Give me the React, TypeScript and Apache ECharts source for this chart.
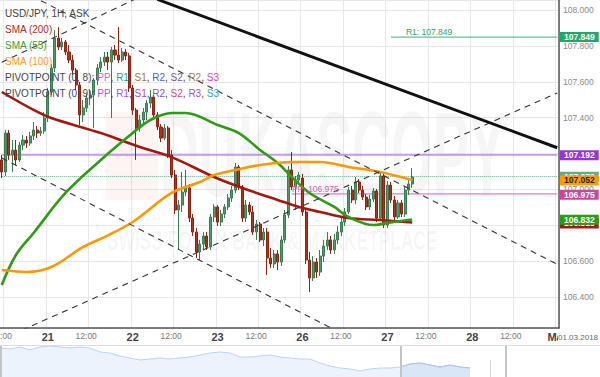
import React, { useEffect, useRef } from "react";
import * as echarts from "echarts";

const FONT = "'Liberation Sans', Arial, Helvetica, sans-serif";

// ---------- hourly time slots (weekend skipped) ----------
const firstDay = "02-20";
const firstHour = 11;
const tradingDays = ["02-21", "02-22", "02-23", "02-26", "02-27", "02-28"];
const firstSlot = "02-20 11:00";
const lastSlot = "03-01 00:00";
const dayLabels: Record<string, string> = {
  "02-21": "21", "02-22": "22", "02-23": "23", "02-26": "26",
  "02-27": "27", "02-28": "28", "03-01": "Mar",
};

// ---------- candles: [open, close, low, high] ----------
const candles20 = [
  [107.164, 107.097, 107.063, 107.192], [107.097, 107.314, 107.075, 107.331],
  [107.314, 107.192, 107.164, 107.331], [107.192, 107.219, 107.097, 107.275],
  [107.219, 107.164, 107.136, 107.275], [107.164, 107.247, 107.153, 107.264],
  [107.247, 107.275, 107.219, 107.303], [107.275, 107.258, 107.231, 107.298],
  [107.258, 107.298, 107.242, 107.320], [107.298, 107.331, 107.275, 107.376],
  [107.331, 107.314, 107.286, 107.353], [107.314, 107.325, 107.298, 107.348],
  [107.325, 107.398, 107.309, 107.431],
];
const candles21 = [
  [107.398, 107.543, 107.376, 107.565], [107.543, 107.677, 107.526, 107.699],
  [107.677, 107.844, 107.654, 107.888], [107.844, 107.794, 107.777, 107.905],
  [107.794, 107.822, 107.777, 107.844], [107.822, 107.766, 107.749, 107.833],
  [107.766, 107.721, 107.704, 107.805], [107.721, 107.665, 107.638, 107.749],
  [107.665, 107.582, 107.554, 107.677], [107.582, 107.415, 107.359, 107.599],
  [107.415, 107.454, 107.376, 107.498], [107.454, 107.509, 107.431, 107.532],
  [107.509, 107.526, 107.470, 107.554], [107.526, 107.610, 107.342, 107.621],
  [107.610, 107.677, 107.582, 107.699], [107.677, 107.710, 107.654, 107.738],
  [107.710, 107.738, 107.688, 107.766], [107.738, 107.710, 107.665, 107.766],
  [107.710, 107.777, 107.398, 107.794], [107.777, 107.749, 107.721, 107.805],
  [107.749, 107.721, 107.704, 107.905], [107.721, 107.766, 107.710, 107.788],
  [107.766, 107.744, 107.721, 107.783], [107.744, 107.565, 107.543, 107.760],
];
const candles22 = [
  [107.565, 107.442, 107.415, 107.582], [107.442, 107.342, 107.164, 107.454],
  [107.342, 107.387, 107.320, 107.415], [107.387, 107.431, 107.359, 107.454],
  [107.431, 107.481, 107.387, 107.498], [107.481, 107.515, 107.454, 107.554],
  [107.515, 107.415, 107.387, 107.526], [107.415, 107.348, 107.331, 107.431],
  [107.348, 107.286, 107.264, 107.364], [107.286, 107.342, 107.275, 107.364],
  [107.342, 107.192, 107.175, 107.353], [107.192, 107.080, 107.063, 107.219],
  [107.080, 106.885, 106.863, 107.108], [106.885, 106.913, 106.662, 106.941],
  [106.913, 106.985, 106.874, 107.097], [106.985, 107.008, 106.963, 107.108],
  [107.008, 106.840, 106.818, 107.030], [106.840, 106.762, 106.740, 106.863],
  [106.762, 106.651, 106.617, 106.785], [106.651, 106.695, 106.606, 106.718],
  [106.695, 106.740, 106.662, 106.762], [106.740, 106.679, 106.662, 106.762],
  [106.679, 106.846, 106.662, 106.863], [106.846, 106.902, 106.818, 106.918],
];
const candles23 = [
  [106.902, 106.818, 106.796, 106.913], [106.818, 106.863, 106.796, 106.885],
  [106.863, 106.902, 106.840, 106.918], [106.902, 106.952, 106.885, 106.974],
  [106.952, 106.996, 106.930, 107.019], [106.996, 107.125, 106.980, 107.147],
  [107.125, 107.013, 106.996, 107.136], [107.013, 106.840, 106.818, 107.024],
  [106.840, 106.913, 106.818, 106.941], [106.913, 106.874, 106.857, 106.930],
  [106.874, 106.762, 106.746, 106.907], [106.762, 106.807, 106.718, 106.829],
  [106.807, 106.718, 106.707, 106.818], [106.718, 106.762, 106.684, 106.785],
  [106.762, 106.617, 106.523, 106.785], [106.617, 106.584, 106.562, 106.673],
  [106.584, 106.640, 106.562, 106.662], [106.640, 106.595, 106.550, 106.662],
  [106.595, 106.718, 106.573, 106.740], [106.718, 106.857, 106.701, 106.885],
  [106.857, 107.108, 106.840, 107.130], [107.108, 107.013, 106.996, 107.208],
  [107.013, 107.052, 106.885, 107.075], [107.052, 107.080, 107.030, 107.097],
];
const candles26 = [
  [107.063, 106.874, 106.852, 107.086], [106.874, 106.606, 106.584, 106.896],
  [106.606, 106.506, 106.428, 106.651], [106.506, 106.595, 106.489, 106.628],
  [106.595, 106.539, 106.506, 106.617], [106.539, 106.628, 106.517, 106.662],
  [106.628, 106.684, 106.595, 106.718], [106.684, 106.718, 106.662, 106.762],
  [106.718, 106.662, 106.640, 106.740], [106.662, 106.718, 106.640, 106.751],
  [106.718, 106.762, 106.695, 106.796], [106.762, 106.818, 106.740, 106.840],
  [106.818, 106.874, 106.796, 106.896], [106.874, 106.996, 106.863, 107.013],
  [106.996, 106.941, 106.924, 107.019], [106.941, 107.041, 106.918, 107.069],
  [107.041, 106.996, 106.980, 107.058], [106.996, 106.957, 106.941, 107.019],
  [106.957, 106.902, 106.885, 106.974], [106.902, 106.946, 106.885, 106.969],
  [106.946, 106.991, 106.930, 107.008], [106.991, 106.840, 106.818, 107.002],
  [106.840, 107.075, 106.824, 107.102], [107.075, 106.801, 106.785, 107.097],
];
const candles27 = [
  [106.801, 107.024, 106.785, 107.047], [107.024, 106.941, 106.924, 107.041],
  [106.941, 106.846, 106.829, 106.963], [106.846, 106.924, 106.835, 106.941],
  [106.924, 106.863, 106.846, 106.941], [106.863, 106.996, 106.846, 107.019],
  [106.996, 107.030, 106.969, 107.052], [107.030, 107.069, 107.008, 107.119],
];

// ---------- moving averages: [slot, value] ----------
const sma200 = [
  ["02-20 11:00", 107.543], ["02-20 20:00", 107.443], ["02-21 01:00", 107.398],
  ["02-21 15:00", 107.314], ["02-22 02:00", 107.236], ["02-22 11:00", 107.180],
  ["02-22 23:00", 107.069], ["02-23 07:00", 107.008], ["02-23 17:00", 106.941],
  ["02-23 23:00", 106.902], ["02-26 05:00", 106.874], ["02-26 13:00", 106.840],
  ["02-26 22:00", 106.829], ["02-27 07:00", 106.815],
];
const sma55 = [
  ["02-20 11:00", 106.467], ["02-20 15:00", 106.634], ["02-20 20:00", 106.757],
  ["02-21 05:00", 106.980], ["02-21 15:00", 107.164], ["02-22 00:00", 107.314],
  ["02-22 05:00", 107.387], ["02-22 11:00", 107.426], ["02-22 15:00", 107.426],
  ["02-23 00:00", 107.359], ["02-23 06:00", 107.314], ["02-23 12:00", 107.220],
  ["02-23 17:00", 107.147], ["02-23 21:00", 107.069], ["02-26 02:00", 106.980],
  ["02-26 09:00", 106.902], ["02-26 13:00", 106.846], ["02-26 20:00", 106.801],
  ["02-27 00:00", 106.813], ["02-27 07:00", 106.832],
];
const sma100 = [
  ["02-20 11:00", 106.550], ["02-20 18:00", 106.539], ["02-21 01:00", 106.567],
  ["02-21 10:00", 106.679], ["02-21 16:00", 106.734], ["02-22 00:00", 106.818],
  ["02-22 11:00", 106.980], ["02-22 19:00", 107.041], ["02-22 23:00", 107.080],
  ["02-23 05:00", 107.108], ["02-23 12:00", 107.136], ["02-23 21:00", 107.153],
  ["02-26 05:00", 107.153], ["02-26 13:00", 107.125], ["02-26 22:00", 107.097],
  ["02-27 07:00", 107.052],
];

// ---------- drawn trend lines ----------
const trendMain = [["02-22 07:00", 108.059], ["03-01 00:00", 107.232]];
const channelA = [["02-20 11:00", 108.164], ["03-01 00:00", 106.582]];
const channelB = [["02-20 11:00", 107.175], ["03-01 00:00", 105.575]];
const channelC = [["02-20 11:00", 106.165], ["03-01 00:00", 107.538]];
const channelD = [["02-20 11:00", 107.709], ["02-22 13:00", 108.176]];

// ---------- levels ----------
const r1Level = 107.849;
const r1From = "02-27 01:00";
const ppLevel = 106.975;
const ppFrom = "02-23 21:00";
const upperLevel = 107.192;
const askPrice = 107.072;
const sma100Last = 107.052;
const sma55Last = 106.832;
const sma200Last = 106.815;

// ---------- navigator overview ----------
const navLevels = [
  29, 28, 30, 27, 30, 31, 30, 29, 30, 29, 25, 24, 21, 19, 17, 18, 19, 18, 19, 20,
  22, 24, 25, 24, 20, 20, 21, 22, 20, 19, 18, 18, 14, 11, 9, 8, 6, 8, 9, 9,
  10, 13, 14, 12, 10, 12, 10, 9,
];
const navSlotCount = 61;
const navHighlightFrom = 40;

const pad2 = (n: number) => String(n).padStart(2, "0");

function buildCategories() {
  const cats: string[] = [];
  for (let h = firstHour; h < 24; h++) cats.push(`${firstDay} ${pad2(h)}:00`);
  for (const d of tradingDays) for (let h = 0; h < 24; h++) cats.push(`${d} ${pad2(h)}:00`);
  cats.push(lastSlot);
  return cats;
}

function pivotLegend(y: number, params: string, names: string[], colors: string[]) {
  const keys = ["a", "b", "c", "d", "e", "f", "g"];
  const rich: any = { k: { fill: "#444", color: "#444", font: `10px ${FONT}` } };
  let text = `{k|PIVOTPOINT (${params}): }`;
  names.forEach((n, i) => {
    rich[keys[i]] = { fill: colors[i], color: colors[i], font: `10px ${FONT}` };
    text += `{${keys[i]}|${n}}` + (i < names.length - 1 ? "{k|, }" : "");
  });
  return {
    type: "text", z: 20, silent: true, x: 5, y,
    style: { text, rich, font: `10px ${FONT}`, fill: "#444", textVerticalAlign: "middle", verticalAlign: "middle" },
  };
}

export default function App() {
  const ref = useRef<HTMLDivElement>(null);

  useEffect(() => {
    document.body.style.margin = "0";
    if (!ref.current) return;
    const chart = echarts.init(ref.current, undefined, { renderer: "svg" });

    const categories = buildCategories();
    const candles = [...candles20, ...candles21, ...candles22, ...candles23, ...candles26, ...candles27];
    const isTick = (_i: number, v: string) => v.endsWith(" 00:00") || v.endsWith(" 12:00");

    const clearLine = { color: "rgba(0,0,0,0)", width: 0, type: "solid" };
    const boxLabel = (value: number, bg: string, fg = "#fff", distance = 1) => ({
      show: true,
      position: "end",
      formatter: () => value.toFixed(3),
      backgroundColor: bg,
      color: fg,
      fontSize: 8.5,
      fontWeight: "bold",
      fontFamily: FONT,
      padding: [1, 4, 0, 4],
      lineHeight: 9,
      distance,
    });

    const trendSeries = (data: any[], dashed: boolean) => ({
      type: "line", data, symbol: "none", silent: true, clip: true,
      lineStyle: dashed ? { color: "#333", width: 1.1, type: [6, 5] } : { color: "#111", width: 3 },
      z: 4,
    });
    const levelSeries = (data: any[], color: string, type: any = "solid", width = 1) => ({
      type: "line", data, symbol: "none", silent: true,
      lineStyle: { color, width, type },
      z: 2,
    });
    const smaSeries = (data: any[], color: string) => ({
      type: "line", data, symbol: "none", smooth: 0.35, silent: true,
      lineStyle: { color, width: 2.6 },
      z: 3,
    });

    const option: any = {
      animation: false,
      textStyle: { fontFamily: FONT },
      grid: [
        { left: 0, right: 41, top: 0, bottom: 49, containLabel: false, outerBoundsMode: "none" },
        { left: 0, right: 0, top: 346, height: 31, containLabel: false, outerBoundsMode: "none" },
      ],
      xAxis: [
        {
          type: "category",
          gridIndex: 0,
          data: categories,
          boundaryGap: true,
          axisLine: { lineStyle: { color: "#555", width: 1.5 } },
          axisTick: { show: false },
          axisLabel: {
            interval: isTick,
            hideOverlap: false,
            margin: 3,
            formatter: (v: string) => {
              const [d, h] = v.split(" ");
              return h === "00:00" ? `{d|${dayLabels[d] ?? d}}` : `{h|${h}}`;
            },
            rich: {
              d: { fontSize: 11, fontWeight: "bold", color: "#444", fontFamily: FONT },
              h: { fontSize: 8.5, color: "#777", fontFamily: FONT, padding: [0, 8, 0, 0] },
            },
          },
          splitLine: { show: true, interval: isTick, lineStyle: { color: "#e8e8e8", width: 1 } },
        },
        {
          type: "category",
          gridIndex: 1,
          data: Array.from({ length: navSlotCount }, (_, i) => String(i)),
          boundaryGap: false,
          show: false,
        },
      ],
      yAxis: [
        {
          type: "value",
          gridIndex: 0,
          position: "right",
          min: 106.227,
          max: 108.056,
          splitNumber: 9,
          axisLine: { show: true, lineStyle: { color: "#555", width: 1.5 } },
          axisTick: { show: false },
          axisLabel: {
            formatter: (v: number) => v.toFixed(3),
            showMinLabel: false,
            showMaxLabel: false,
            fontSize: 8.5,
            color: "#8a8a8a",
            margin: 4,
          },
          splitLine: { lineStyle: { color: "#e8e8e8", width: 1 } },
        },
        { type: "value", gridIndex: 1, min: 0, max: 31, show: false },
      ],
      series: [
        levelSeries([[firstSlot, upperLevel], [lastSlot, upperLevel]], "#a44fd0"),
        levelSeries([[firstSlot, askPrice], [lastSlot, askPrice]], "#5faa86", "dotted"),
        levelSeries([[r1From, r1Level], [lastSlot, r1Level]], "#3db07e"),
        levelSeries([[ppFrom, ppLevel], [lastSlot, ppLevel]], "#e27fc6", "solid", 1.2),
        {
          type: "candlestick",
          data: candles,
          barWidth: "72%",
          silent: true,
          itemStyle: {
            color: "#4f9a68",
            color0: "#b1321f",
            borderColor: "#3b7c50",
            borderColor0: "#8b2314",
            borderWidth: 1,
          },
          z: 2,
        },
        smaSeries(sma200, "#a2180f"),
        smaSeries(sma55, "#2e9b14"),
        smaSeries(sma100, "#ff9800"),
        trendSeries(channelA, true),
        trendSeries(channelB, true),
        trendSeries(channelC, true),
        trendSeries(channelD, true),
        trendSeries(trendMain, false),
        {
          type: "line",
          data: [],
          silent: true,
          z: 5,
          markLine: {
            silent: true,
            symbol: ["none", "none"],
            animation: false,
            data: [
              { yAxis: upperLevel, lineStyle: clearLine, label: boxLabel(upperLevel, "#9c33d6") },
              { yAxis: r1Level, lineStyle: clearLine, label: boxLabel(r1Level, "#1fa86b") },
              [
                {
                  coord: [r1From, r1Level],
                  lineStyle: clearLine,
                  label: {
                    show: true, position: "insideStartTop", distance: 1,
                    formatter: () => `R1: ${r1Level.toFixed(3)}`,
                    color: "#2aa070", fontSize: 8.5, fontFamily: FONT, padding: [0, 0, 0, 14],
                  },
                },
                { coord: [lastSlot, r1Level] },
              ],
              { yAxis: askPrice, lineStyle: clearLine, label: boxLabel(askPrice, "#5fae8a") },
              { yAxis: sma100Last, lineStyle: clearLine, label: boxLabel(sma100Last, "#ff9c00", "#222") },
              { yAxis: ppLevel, lineStyle: clearLine, label: boxLabel(ppLevel, "#c9489e") },
              [
                {
                  coord: [ppFrom, ppLevel],
                  lineStyle: clearLine,
                  label: {
                    show: true, position: "insideStartTop", distance: 0,
                    formatter: () => `PP: ${ppLevel.toFixed(3)}`,
                    color: "#d860b0", fontSize: 8.5, fontFamily: FONT,
                  },
                },
                { coord: [lastSlot, ppLevel] },
              ],
              { yAxis: sma200Last, lineStyle: clearLine, label: boxLabel(sma200Last, "#a51b14") },
              { yAxis: sma55Last, lineStyle: clearLine, label: boxLabel(sma55Last, "#2b9d14") },
            ],
          },
        },
        {
          type: "line",
          xAxisIndex: 1,
          yAxisIndex: 1,
          data: navLevels,
          symbol: "none",
          silent: true,
          lineStyle: { color: "#bcd3f2", width: 1 },
          areaStyle: { color: "#edf3fc", opacity: 1 },
        },
        {
          type: "line",
          xAxisIndex: 1,
          yAxisIndex: 1,
          data: navLevels.map((v, i) => (i >= navHighlightFrom ? v : null)),
          symbol: "none",
          silent: true,
          lineStyle: { color: "#a9c6ee", width: 1 },
          areaStyle: { color: "#d9e6f8", opacity: 1 },
        },
      ],
      graphic: [
        // watermark
        { type: "rect", z: 1, silent: true, shape: { x: 106, y: 112, width: 52, height: 88 }, style: { fill: "rgba(225,60,60,0.06)" } },
        { type: "text", z: 1, silent: true, x: 160, y: 155, scaleX: 0.45,
          style: { text: "DUKASCOPY", font: `900 120px ${FONT}`, fill: "rgba(110,110,110,0.06)", textVerticalAlign: "middle", verticalAlign: "middle" } },
        { type: "text", z: 1, silent: true, x: 107, y: 240, scaleX: 0.62,
          style: { text: "SWISS FOREX BANK & MARKETPLACE", font: `bold 28px ${FONT}`, fill: "rgba(110,110,110,0.06)", textVerticalAlign: "middle", verticalAlign: "middle" } },
        // legend
        { type: "text", z: 20, silent: true, x: 5, y: 13, style: { text: "USD/JPY, 1H, ASK", font: `10px ${FONT}`, fill: "#444", textVerticalAlign: "middle", verticalAlign: "middle" } },
        { type: "text", z: 20, silent: true, x: 5, y: 29, style: { text: "SMA (200)", font: `10px ${FONT}`, fill: "#aa2e26", textVerticalAlign: "middle", verticalAlign: "middle" } },
        { type: "text", z: 20, silent: true, x: 5, y: 45, style: { text: "SMA (55)", font: `10px ${FONT}`, fill: "#3a9e28", textVerticalAlign: "middle", verticalAlign: "middle" } },
        { type: "text", z: 20, silent: true, x: 5, y: 61, style: { text: "SMA (100)", font: `10px ${FONT}`, fill: "#ff9a1f", textVerticalAlign: "middle", verticalAlign: "middle" } },
        pivotLegend(77, "0, 8", ["PP", "R1", "S1", "R2", "S2", "R2", "S3"],
          ["#e352e3", "#23a271", "#a67a32", "#4b63c4", "#7d5786", "#a4804f", "#d444d4"]),
        pivotLegend(93, "0, 9", ["PP", "R1", "S1", "R2", "S2", "R3", "S3"],
          ["#c944f2", "#a353ee", "#b646dc", "#7b52e6", "#d2438c", "#a052dc", "#2fa9c9"]),
        // date box at axis end
        { type: "rect", z: 30, silent: true, shape: { x: 558, y: 330, width: 42, height: 14 }, style: { fill: "#fff" } },
        { type: "text", z: 31, silent: true, x: 558, y: 337, style: { text: "01.03.2018", font: `8px ${FONT}`, fill: "#666", textVerticalAlign: "middle", verticalAlign: "middle" } },
        // navigator frame and handles
        { type: "line", z: 30, silent: true, shape: { x1: 0, y1: 345.5, x2: 600, y2: 345.5 }, style: { stroke: "#dcdcdc", lineWidth: 1 } },
        { type: "rect", z: 30, silent: true, shape: { x: 0, y: 346, width: 2, height: 31 }, style: { fill: "#c4c4c4" } },
        { type: "rect", z: 30, silent: true, shape: { x: 400, y: 346, width: 2, height: 31 }, style: { fill: "#c4c4c4" } },
        { type: "rect", z: 30, silent: true, shape: { x: 505, y: 346, width: 2, height: 31 }, style: { fill: "#c4c4c4" } },
        { type: "line", z: 30, silent: true, shape: { x1: 490.5, y1: 360, x2: 490.5, y2: 377 }, style: { stroke: "#d8d8d8", lineWidth: 1 } },
      ],
    };

    chart.setOption(option);
    return () => chart.dispose();
  }, []);

  return <div ref={ref} style={{ width: 600, height: 377 }} />;
}
